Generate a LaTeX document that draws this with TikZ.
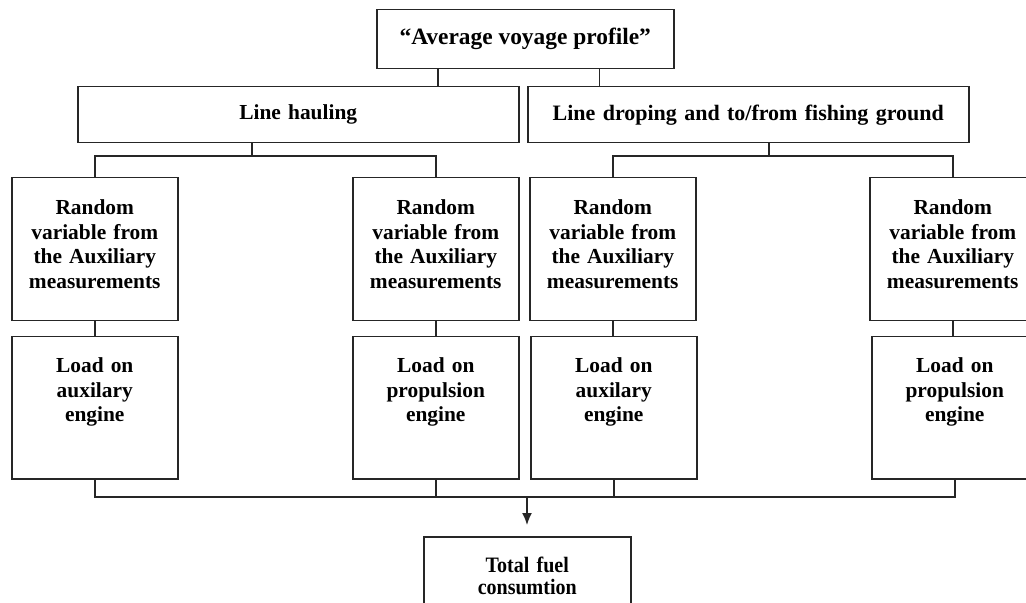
\documentclass[tikz,border=0pt]{standalone}
\usepackage{fontspec}
\setmainfont{Liberation Serif}
\newfontfamily\condfont[FakeStretch=0.91]{Liberation Serif}
\usepackage{tikz}
\usetikzlibrary{calc}
\usetikzlibrary{arrows.meta}

\tikzset{
  box/.style={draw=black!85, line width=.75pt, anchor=north west, align=center, inner sep=0pt,
    font=\fontsize{10.7}{12.3}\selectfont\bfseries},
  stagebox/.style={box, text width=220.5pt, minimum height=28pt},
  varbox/.style={box, text width=83pt, text height=18.5pt, text depth=53pt},
  loadbox/.style={box, text width=83pt, text height=18pt, text depth=53pt},
  link/.style={draw=black!85, line width=.75pt}
}

\begin{document}
\begin{tikzpicture}[x=.5pt, y=-.5pt]
\useasboundingbox (0,0) rectangle (1026,603);
% profile and the two stages
\node[box, minimum width=148.5pt, minimum height=29.5pt, font=\fontsize{11.7}{13}\selectfont\bfseries] (profile) at (376,9) {“Average voyage profile”};
\node[stagebox] (haul) at (77,86) {Line hauling};
\node[stagebox, font=\fontsize{11}{12.3}\selectfont\bfseries] (drop) at (527,86) {Line droping and to/from fishing ground};
\draw[link] ([xshift=31pt]profile.south west) -- ([xshift=31pt]profile.south west |- haul.north);
\draw[link] ([xshift=-37.5pt]profile.south east) -- ([xshift=-37.5pt]profile.south east |- drop.north);
% random variables
\node[varbox] (var1) at (11,177) {Random\\variable from\\the Auxiliary\\measurements};
\node[varbox] (var2) at (352,177) {Random\\variable from\\the Auxiliary\\measurements};
\node[varbox] (var3) at (529,177) {Random\\variable from\\the Auxiliary\\measurements};
\node[varbox] (var4) at (869,177) {Random\\variable from\\the Auxiliary\\measurements};
\coordinate (haulbus) at (252,156);
\coordinate (dropbus) at (769,156);
\draw[link] (haul.south -| haulbus) -- (haulbus);
\draw[link] (var1.north) |- (var2.north |- haulbus) -- (var2.north);
\draw[link] (drop.south -| dropbus) -- (dropbus);
\draw[link] (var3.north) |- (var4.north |- dropbus) -- (var4.north);
% loads
\node[loadbox] (load1) at (11,336) {Load on\\auxilary\\engine};
\node[loadbox] (load2) at (352,336) {Load on\\propulsion\\engine};
\node[loadbox] (load3) at (530,336) {Load on\\auxilary\\engine};
\node[loadbox] (load4) at (871,336) {Load on\\propulsion\\engine};
\foreach \i in {1,...,4} {
  \draw[link] (var\i.south) -- (var\i.south |- load\i.north);
}
% total
\node[box, text width=103.5pt, text height=18pt, text depth=32pt, font=\fontsize{11}{10.7}\selectfont\condfont\bfseries] (total) at (423,536) {Total fuel\\consumtion};
\coordinate (sum) at (527,497);
\draw[link] (load1.south) |- (load4.south |- sum) -- (load4.south);
\draw[link] (load2.south) -- (load2.south |- sum);
\draw[link] (load3.south) -- (load3.south |- sum);
\draw[link, -{Latex[length=6pt,width=5pt]}] (sum) -- ([yshift=5.5pt]total.north -| sum);
\end{tikzpicture}
\end{document}
